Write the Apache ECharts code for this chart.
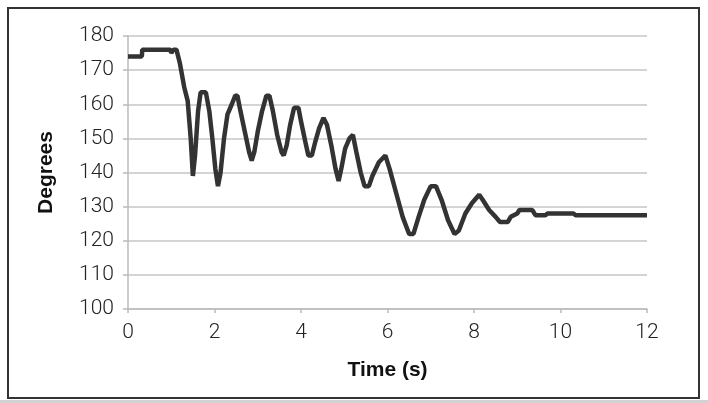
<!DOCTYPE html>
<html>
<head>
<meta charset="utf-8">
<script src="https://cdn.jsdelivr.net/npm/echarts@6/dist/echarts.min.js"></script>
<style>
  html, body { margin: 0; padding: 0; background: #fff; }
  #chart { width: 708px; height: 403px; }
</style>
</head>
<body>
<div id="chart"></div>
<script>
// time (s) and angle (degrees)
const timeValues = [0, 0.32, 0.33, 0.98, 1.0, 1.05, 1.12, 1.2, 1.3, 1.38, 1.45, 1.5, 1.55, 1.62, 1.68, 1.8, 1.88, 1.95, 2.02, 2.08,
  2.14, 2.22, 2.3, 2.4, 2.48, 2.53, 2.6, 2.7, 2.8, 2.86, 2.92, 3.0, 3.1, 3.2, 3.27, 3.35, 3.45, 3.55, 3.6, 3.67,
  3.75, 3.84, 3.94, 4.0, 4.1, 4.17, 4.25, 4.33, 4.42, 4.52, 4.6, 4.7, 4.8, 4.87, 4.93, 5.02, 5.12, 5.2, 5.28, 5.38,
  5.47, 5.57, 5.65, 5.8, 5.95, 6.05, 6.2, 6.35, 6.5, 6.6, 6.72, 6.85, 7.0, 7.12, 7.25, 7.4, 7.55, 7.65, 7.8, 7.95,
  8.12, 8.2, 8.35, 8.5, 8.6, 8.78, 8.85, 9.0, 9.05, 9.35, 9.42, 9.65, 9.7, 10.3, 10.35, 11.0, 12.0]
const degreeValues = [174, 174, 176, 176, 175, 176, 176, 172, 165, 161, 150, 139, 145, 158, 163.5, 163.5, 158, 150, 141, 136,
  140, 150, 157, 160, 162.5, 162.5, 158, 152, 146, 143.5, 146, 152, 158, 162.5, 162.5, 158, 151, 146, 145, 148,
  154, 159, 159, 155, 149, 145, 145, 149, 153, 156, 154, 148, 141, 137.5, 141, 147, 150, 151, 146, 140,
  136, 136, 139, 143, 145, 141, 134, 127, 122, 122, 127, 132, 136, 136, 132, 126, 122, 123, 128, 131,
  133.5, 132, 129, 127, 125.5, 125.5, 127, 128, 129, 129, 127.5, 127.5, 128, 128, 127.5, 127.5, 127.5]
const xTicks = [0, 2, 4, 6, 8, 10, 12]
const yTicks = [100, 110, 120, 130, 140, 150, 160, 170, 180]

const chart = echarts.init(document.getElementById('chart'))

const labelFont = { fontFamily: 'Roboto', fontWeight: 300, fontSize: 21, color: '#222' }
const nameFont = { fontFamily: 'Liberation Sans', fontWeight: 'bold', fontSize: 21, color: '#111' }

chart.setOption({
  animation: false,
  backgroundColor: '#fff',
  graphic: [
    // outer frame and the grey strip under it
    { type: 'rect', shape: { x: 0, y: 400, width: 708, height: 3 }, style: { fill: '#d2d2d2' } },
    { type: 'rect', shape: { x: 8, y: 8, width: 691, height: 390 }, style: { fill: 'none', stroke: '#333', lineWidth: 2 } }
  ],
  grid: { left: 128, right: 61, top: 36, bottom: 94 },
  xAxis: {
    type: 'value',
    min: xTicks[0],
    max: xTicks[xTicks.length - 1],
    interval: 2,
    name: 'Time (s)',
    nameLocation: 'middle',
    nameGap: 51,
    nameTextStyle: nameFont,
    axisLine: { lineStyle: { color: '#bbb', width: 1.5 } },
    axisTick: { show: true, length: 4, lineStyle: { color: '#bbb', width: 1.5 } },
    axisLabel: { ...labelFont, margin: 13 },
    splitLine: { show: false }
  },
  yAxis: {
    type: 'value',
    min: yTicks[0],
    max: yTicks[yTicks.length - 1],
    interval: 10,
    name: 'Degrees',
    nameLocation: 'middle',
    nameGap: 71,
    nameTextStyle: nameFont,
    axisLine: { show: true, lineStyle: { color: '#bbb', width: 1.5 } },
    axisTick: { show: true, length: 5, lineStyle: { color: '#bbb', width: 1.5 } },
    axisLabel: { ...labelFont, margin: 14 },
    splitLine: { lineStyle: { color: '#c6c6c6', width: 1.5 } }
  },
  series: [{
    type: 'line',
    data: timeValues.map((t, i) => [t, degreeValues[i]]),
    showSymbol: false,
    lineStyle: { color: '#333', width: 4.5 },
    itemStyle: { color: '#333' }
  }]
})
</script>
</body>
</html>
